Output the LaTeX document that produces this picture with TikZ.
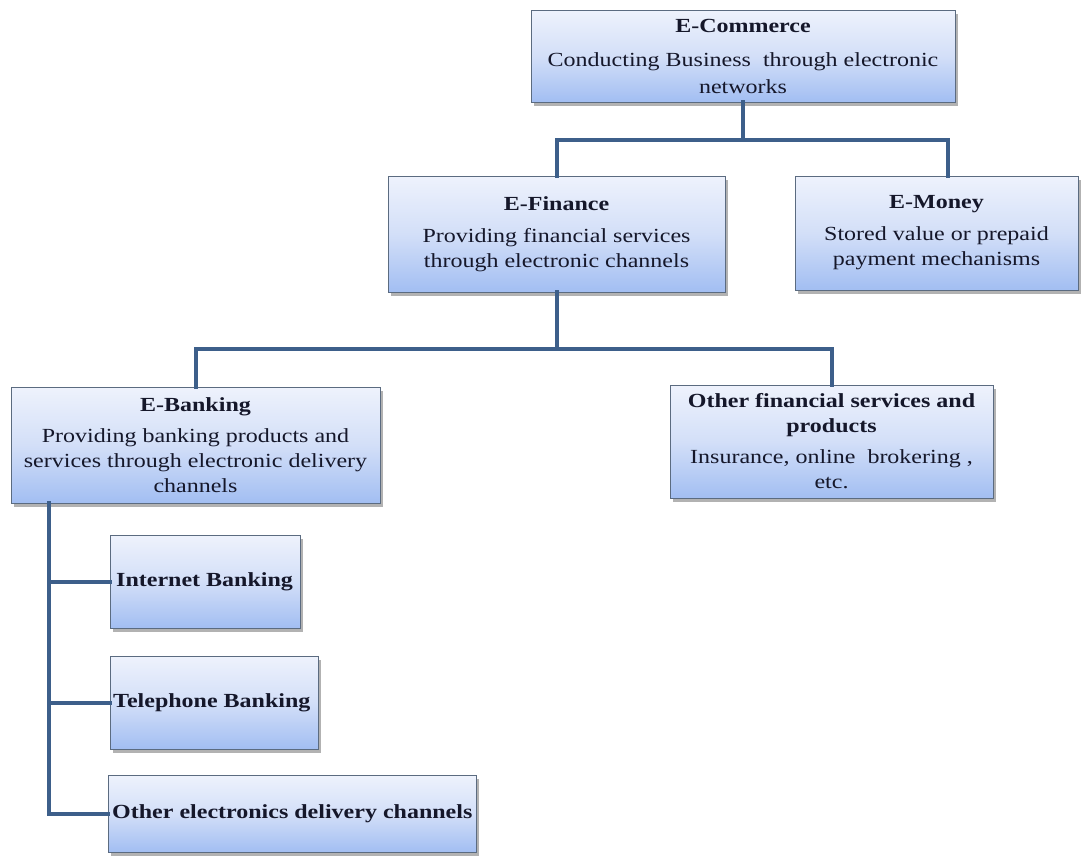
\documentclass[tikz,border=0pt]{standalone}
\usepackage{fontspec}
\setmainfont{Liberation Serif}[FakeStretch=1.2]
\usetikzlibrary{shadows}
\definecolor{conncol}{HTML}{3D5F8A}
\definecolor{boxline}{HTML}{5B6B80}
\definecolor{boxtop}{HTML}{EEF2FC}
\definecolor{boxmid}{HTML}{D3DFF8}
\definecolor{boxbot}{HTML}{A2BEF2}
\definecolor{txt}{HTML}{15172A}
\tikzset{
  box/.style={rectangle, anchor=north west, inner sep=0pt, outer sep=0pt,
    draw=boxline, line width=1pt,
    top color=boxtop, bottom color=boxbot, middle color=boxmid,
    drop shadow={shadow xshift=2.5pt, shadow yshift=-3.5pt, fill=black, opacity=0.3},
    text=txt, align=center, font=\fontsize{20}{25}\selectfont},
  conn/.style={draw=conncol, line width=4pt, line cap=rect}
}
\begin{document}
\begin{tikzpicture}[x=1pt, y=-1pt]
\useasboundingbox (0,0) rectangle (1088,857);
\fill[white] (0,0) rectangle (1088,857);

% boxes
\node[box, minimum width=424pt, minimum height=92pt, font=\fontsize{20}{27}\selectfont] (ecom) at (531,10)
  {\textbf{E-Commerce}\\[7pt]Conducting Business~ through electronic\\networks};
\node[box, minimum width=337pt, minimum height=116pt] (efin) at (388,176)
  {\textbf{E-Finance}\\[7pt]Providing financial services\\through electronic channels};
\node[box, minimum width=283pt, minimum height=114pt] (emon) at (795,176)
  {\textbf{E-Money}\\[7pt]Stored value or prepaid\\payment mechanisms};
\node[box, minimum width=369pt, minimum height=116pt] (ebank) at (11,387)
  {\textbf{E-Banking}\\[6pt]Providing banking products and\\services through electronic delivery\\channels};
\node[box, minimum width=323pt, minimum height=113pt] (other) at (670,385)
  {\textbf{Other financial services and}\\\textbf{products}\\[6pt]Insurance, online~ brokering ,\\etc.};
\node[box, minimum width=190pt, minimum height=93pt] (inet) at (110,535) {};
\node[anchor=west, inner sep=0pt, text=txt, font=\fontsize{20}{25}\selectfont\bfseries] (inett) at ([xshift=6pt]inet.west) {Internet Banking};
\node[box, minimum width=208pt, minimum height=93pt] (tel) at (110,656) {};
\node[anchor=west, inner sep=0pt, text=txt, font=\fontsize{20}{25}\selectfont\bfseries] (telt) at ([xshift=3pt]tel.west) {Telephone Banking};
\node[box, minimum width=368pt, minimum height=77pt] (oed) at (108,775) {};
\node[anchor=west, inner sep=0pt, text=txt, font=\fontsize{20}{25}\selectfont\bfseries] (oedt) at ([xshift=4pt]oed.west) {Other electronics delivery channels};

% connectors
\coordinate (c1) at ([yshift=-38pt]ecom.south);
\draw[conn] (ecom.south) -- (c1) -| (efin.north);
\draw[conn] (c1) -| ([xshift=11pt]emon.north);
\coordinate (c2) at ([yshift=-57pt]efin.south);
\draw[conn] (efin.south) -- (c2) -| (ebank.north);
\draw[conn] (c2) -| (other.north);
\coordinate (trunk) at ([xshift=38pt]ebank.south west);
\draw[conn] (trunk) |- (oed.west);
\draw[conn] (trunk |- inet.west) -- (inet.west);
\draw[conn] (trunk |- tel.west) -- (tel.west);
\end{tikzpicture}
\end{document}
